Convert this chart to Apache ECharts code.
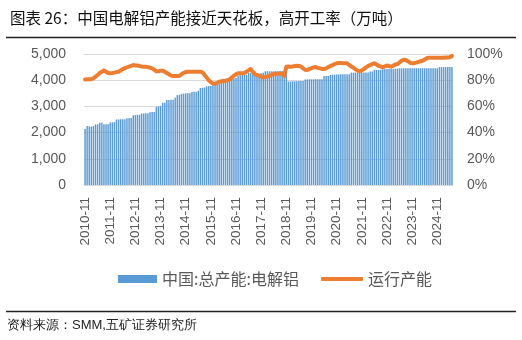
<!DOCTYPE html>
<html>
<head>
<meta charset="utf-8">
<script src="https://cdn.jsdelivr.net/npm/echarts@6/dist/echarts.min.js"></script>
<style>
html,body{margin:0;padding:0;background:#fff;}
#chart{width:522px;height:340px;}
</style>
</head>
<body>
<div id="chart"></div>
<script>
// Monthly categories from 2010-11 to 2025-06
var startYear = 2010, startMonth = 11, monthCount = 176;
var categories = [];
for (var i = 0; i < monthCount; i++) {
  var mm = startMonth - 1 + i;
  var y = startYear + Math.floor(mm / 12);
  var m = (mm % 12) + 1;
  categories.push(y + '-' + (m < 10 ? '0' + m : m));
}

// 中国:总产能:电解铝 (万吨)
var capacity = [
  2150, 2250, 2230, 2230, 2250, 2310, 2320, 2380, 2380, 2320,
  2320, 2320, 2390, 2390, 2400, 2500, 2500, 2510, 2510, 2510,
  2550, 2560, 2560, 2660, 2670, 2680, 2680, 2730, 2730, 2740,
  2740, 2780, 2790, 2790, 2980, 3000, 3020, 3140, 3140, 3240,
  3240, 3250, 3250, 3330, 3430, 3440, 3480, 3490, 3500, 3500,
  3500, 3550, 3560, 3560, 3600, 3700, 3710, 3720, 3770, 3780,
  3780, 3860, 3870, 3880, 3880, 3940, 3950, 3950, 4050, 4060,
  4070, 4070, 4080, 4180, 4190, 4200, 4200, 4200, 4280, 4280,
  4230, 4230, 4240, 4240, 4270, 4280, 4340, 4340, 4340, 4340,
  4340, 4340, 4340, 4350, 4350, 4350, 4350, 3950, 3950, 3960,
  3960, 3960, 3970, 3970, 3970, 4030, 4030, 4035, 4035, 4035,
  4040, 4040, 4040, 4040, 4160, 4160, 4160, 4200, 4210, 4210,
  4220, 4220, 4225, 4225, 4225, 4225, 4230, 4290, 4290, 4290,
  4290, 4290, 4290, 4290, 4290, 4290, 4330, 4330, 4390, 4390,
  4390, 4400, 4420, 4430, 4430, 4430, 4430, 4430, 4440, 4440,
  4450, 4455, 4455, 4455, 4455, 4455, 4455, 4455, 4455, 4455,
  4455, 4455, 4455, 4455, 4455, 4455, 4455, 4455, 4455, 4500,
  4500, 4500, 4500, 4500, 4500, 4500
];

// 运行产能 / 开工率 (%)
var utilization = [
  80.5, 80.7, 80.7, 80.8, 81.5,
  82.7, 84.0, 85.5, 86.5, 87.5,
  86.5, 85.5, 85.3, 85.5, 85.8, 86.2,
  86.5, 87.5, 88.5, 89.2, 89.8,
  90.3, 91.0, 91.6, 91.3, 91.2,
  90.8, 90.5, 90.3, 90.3, 90.0, 89.5,
  89.0, 88.0, 86.8, 86.8, 87.3,
  87.3, 86.5, 85.5, 84.5, 83.5,
  83.2, 83.2, 83.2, 83.3, 84.5,
  85.5, 86.2, 86.5, 86.5, 86.5,
  86.5, 86.5, 86.5, 86.5, 86.0,
  84.0, 82.0, 80.0, 78.5, 77.5,
  77.3, 78.0, 78.8, 79.2, 79.4,
  79.6, 80.0, 80.7, 82.0, 83.5,
  84.5, 85.3, 85.3, 85.3, 85.5,
  86.5, 87.5, 88.5, 86.5, 84.5,
  84.0, 83.5, 82.8, 82.2, 82.5,
  82.8, 83.2, 84.0, 84.8, 85.0,
  85.0, 85.0, 85.0, 83.2,
  90.3, 90.5, 90.3, 90.5, 90.8,
  91.0, 90.8, 90.5, 89.0, 88.0,
  87.8, 88.5, 89.2, 89.8, 90.0,
  89.4, 89.0, 88.6, 88.5, 89.0,
  90.0, 90.8, 91.5, 92.3, 92.9,
  93.1, 93.1, 93.0, 93.0, 92.9,
  91.6, 90.5, 89.5, 88.3, 87.3,
  86.8, 87.5, 88.5, 89.8, 90.8,
  91.6, 92.3, 92.9, 92.0, 91.0,
  90.5, 89.8, 90.6, 91.2, 90.8,
  90.3, 91.0, 92.0, 92.3, 93.5,
  95.0, 95.6, 95.4, 94.5, 93.4,
  92.9, 93.0, 93.4, 94.0, 94.5,
  94.8, 95.8, 96.8, 97.2, 97.2,
  97.2, 97.2, 97.2, 97.2, 97.2,
  97.2, 97.3, 97.3, 97.5, 98.5
];

var leftTicks = [0, 1000, 2000, 3000, 4000, 5000];
var rightTicks = [0, 20, 40, 60, 80, 100];

var titleText = '图表 26：中国电解铝产能接近天花板，高开工率（万吨）';
var sourceText = '资料来源：SMM,五矿证券研究所';
var seriesNames = ['中国:总产能:电解铝', '运行产能'];

var chart = echarts.init(document.getElementById('chart'), null, {renderer: 'canvas'});
var axisFont = '"Liberation Sans", Arial, sans-serif';
var cjkFont = '"Noto Sans CJK SC", "Liberation Sans", sans-serif';

chart.setOption({
  animation: false,
  backgroundColor: '#fff',
  title: {
    text: titleText,
    left: 5, top: 5,
    textStyle: {fontSize: 15.5, fontWeight: 'normal', color: '#111', fontFamily: cjkFont}
  },
  graphic: [
    {type: 'line', shape: {x1: 6, y1: 37.5, x2: 516, y2: 37.5}, style: {stroke: '#222', lineWidth: 1.5}},
    {type: 'line', shape: {x1: 6, y1: 311.5, x2: 516, y2: 311.5}, style: {stroke: '#222', lineWidth: 1.5}},
    {type: 'text', left: 7, top: 319, style: {text: sourceText, fontSize: 13, fill: '#222', font: '13px ' + cjkFont}}
  ],
  legend: [
    {
      data: [seriesNames[0]],
      left: 113, top: 266,
      itemWidth: 39, itemHeight: 8, itemGap: 10,
      icon: 'rect',
      textStyle: {fontSize: 16, color: '#595959', fontFamily: cjkFont}
    },
    {
      data: [seriesNames[1]],
      left: 316, top: 266,
      itemWidth: 42, itemHeight: 4, itemGap: 10,
      icon: 'roundRect',
      textStyle: {fontSize: 16, color: '#595959', fontFamily: cjkFont}
    }
  ],
  grid: {left: 84, right: 69, top: 54, bottom: 155, containLabel: false},
  xAxis: {
    type: 'category',
    data: categories,
    boundaryGap: true,
    axisLine: {show: true, lineStyle: {color: '#d9d9d9', width: 1}},
    axisTick: {show: false},
    axisLabel: {
      interval: 11, rotate: 90, margin: 12,
      color: '#595959', fontSize: 13.5, fontFamily: axisFont
    },
    splitLine: {show: false}
  },
  yAxis: [
    {
      type: 'value', min: leftTicks[0], max: leftTicks[leftTicks.length - 1], interval: 1000,
      axisLine: {show: false}, axisTick: {show: false},
      axisLabel: {
        margin: 18, color: '#595959', fontSize: 14, fontFamily: axisFont,
        formatter: function (v) { return v.toLocaleString('en-US'); }
      },
      splitLine: {lineStyle: {color: '#d9d9d9', width: 1}}
    },
    {
      type: 'value', min: rightTicks[0], max: rightTicks[rightTicks.length - 1], interval: 20,
      axisLine: {show: false}, axisTick: {show: false},
      axisLabel: {
        margin: 14, color: '#595959', fontSize: 14, fontFamily: axisFont,
        formatter: function (v) { return v + '%'; }
      },
      splitLine: {show: false}
    }
  ],
  series: [
    {
      name: seriesNames[0], type: 'bar', data: capacity, yAxisIndex: 0,
      barCategoryGap: '30%',
      itemStyle: {color: '#5b9bd5'}
    },
    {
      name: seriesNames[1], type: 'line', data: utilization, yAxisIndex: 1,
      symbol: 'none', smooth: false, z: 5,
      lineStyle: {color: '#ed7d31', width: 4, cap: 'round', join: 'round'},
      itemStyle: {color: '#ed7d31'}
    }
  ]
});
</script>
</body>
</html>
